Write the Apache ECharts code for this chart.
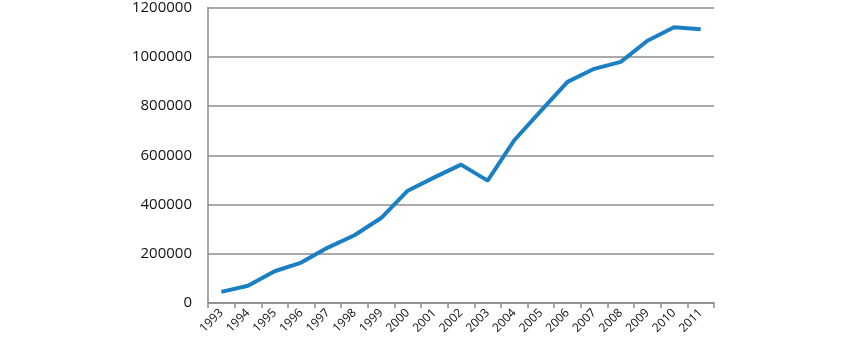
<!DOCTYPE html>
<html>
<head>
<meta charset="utf-8">
<script src="https://cdn.jsdelivr.net/npm/echarts@6/dist/echarts.min.js"></script>
<style>
  html, body { margin: 0; padding: 0; background: #fff; }
  #chart { width: 850px; height: 363px; }
</style>
</head>
<body>
<div id="chart"></div>
<script>
var years = ['1993', '1994', '1995', '1996', '1997', '1998', '1999', '2000', '2001', '2002',
             '2003', '2004', '2005', '2006', '2007', '2008', '2009', '2010', '2011'];
var values = [45000, 70000, 129000, 164000, 225000, 275000, 345000, 456000, 510000, 562000,
              497000, 661000, 780000, 898000, 951000, 979000, 1065000, 1120000, 1112000];
var yTicks = { min: 0, max: 1200000, interval: 200000 };

var chart = echarts.init(document.getElementById('chart'));

var option = {
    animation: false,
    grid: {
        left: 208,
        right: 136,
        top: 6,
        bottom: 60
    },
    xAxis: {
        type: 'category',
        data: years,
        boundaryGap: true,
        axisLine: { lineStyle: { color: '#8c8c8c', width: 1.5 } },
        axisTick: { show: true, length: 5, lineStyle: { color: '#8c8c8c', width: 1.5 } },
        axisLabel: {
            rotate: 45,
            interval: 0,
            margin: 8,
            color: '#111',
            fontFamily: 'Open Sans',
            fontSize: 12
        }
    },
    yAxis: {
        type: 'value',
        min: yTicks.min,
        max: yTicks.max,
        interval: yTicks.interval,
        axisLine: { show: true, lineStyle: { color: '#8c8c8c', width: 1.5 } },
        axisTick: { show: false },
        splitLine: { lineStyle: { color: '#8c8c8c', width: 1.5 } },
        axisLabel: {
            margin: 16,
            color: '#111',
            fontFamily: 'Open Sans',
            fontSize: 15,
            formatter: function (v) { return String(v); }
        }
    },
    series: [
        {
            type: 'line',
            data: values,
            symbol: 'none',
            lineStyle: { color: '#1b7fc3', width: 4 }
        }
    ]
};

chart.setOption(option);
</script>
</body>
</html>
